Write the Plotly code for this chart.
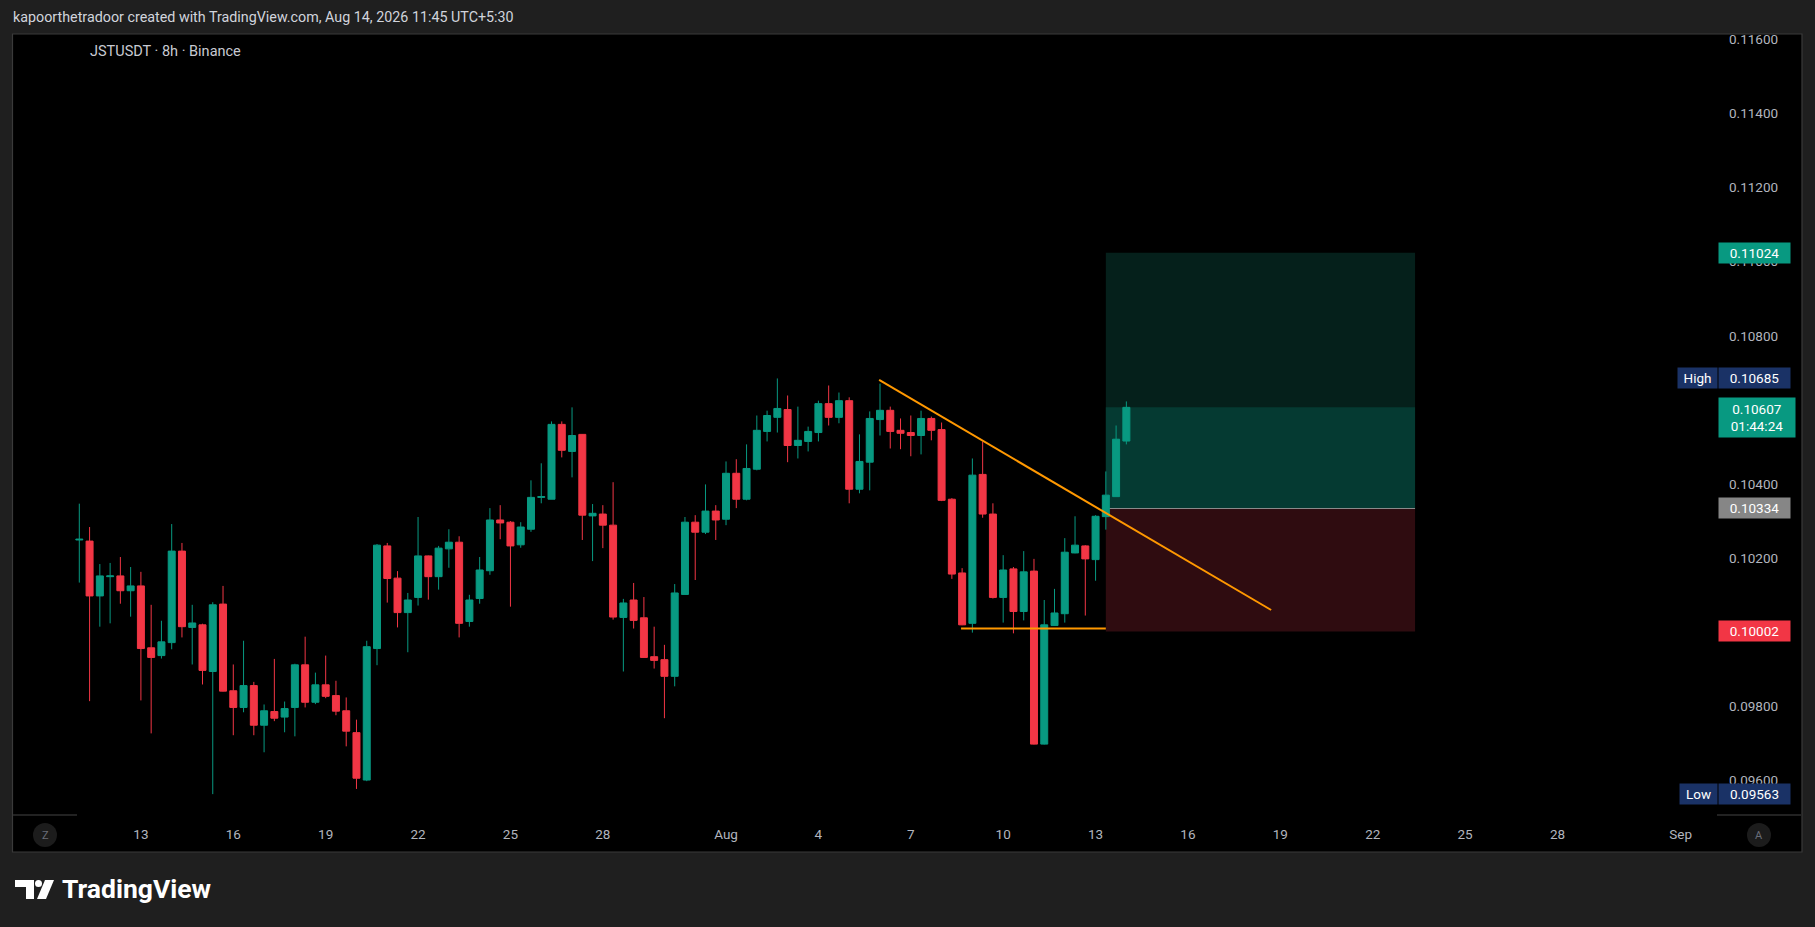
import pandas as pd
import plotly.graph_objects as go

# ---------------- data ----------------
times = pd.date_range("2026-07-11 00:00", periods=103, freq="8h")

opens = [0.10249, 0.10246, 0.10098, 0.10150, 0.10152, 0.10112, 0.10125, 0.09958, 0.09937, 0.09972,
         0.10219, 0.10013, 0.10020, 0.09894, 0.10076, 0.09842, 0.09797, 0.09856, 0.09749, 0.09786,
         0.09771, 0.09797, 0.09912, 0.09811, 0.09858, 0.09829, 0.09788, 0.09729, 0.09601, 0.09956,
         0.10233, 0.10146, 0.10053, 0.10094, 0.10206, 0.10150, 0.10225, 0.10243, 0.10029, 0.10091,
         0.10166, 0.10303, 0.10297, 0.10236, 0.10278, 0.10364, 0.10359, 0.10561, 0.10488, 0.10534,
         0.10314, 0.10319, 0.10289, 0.10040, 0.10087, 0.10039, 0.09934, 0.09926, 0.09881, 0.10102,
         0.10297, 0.10270, 0.10327, 0.10305, 0.10429, 0.10359, 0.10440, 0.10542, 0.10580, 0.10601,
         0.10504, 0.10515, 0.10539, 0.10617, 0.10580, 0.10625, 0.10386, 0.10459, 0.10574, 0.10599,
         0.10545, 0.10539, 0.10531, 0.10577, 0.10547, 0.10359, 0.10160, 0.10024, 0.10426, 0.10319,
         0.10094, 0.10171, 0.10056, 0.10165, 0.09698, 0.10018, 0.10050, 0.10214, 0.10233, 0.10196,
         0.10312, 0.10366, 0.10516]
highs = [0.10347, 0.10284, 0.10184, 0.10187, 0.10203, 0.10176, 0.10163, 0.10074, 0.10031, 0.10292,
         0.10241, 0.10074, 0.10023, 0.10081, 0.10125, 0.09913, 0.09977, 0.09866, 0.09805, 0.09928,
         0.09813, 0.09915, 0.09988, 0.09891, 0.09937, 0.09869, 0.09824, 0.09764, 0.09977, 0.10238,
         0.10241, 0.10165, 0.10106, 0.10311, 0.10207, 0.10233, 0.10278, 0.10259, 0.10101, 0.10203,
         0.10335, 0.10343, 0.10300, 0.10297, 0.10410, 0.10456, 0.10569, 0.10569, 0.10607, 0.10535,
         0.10346, 0.10343, 0.10405, 0.10090, 0.10133, 0.10095, 0.10015, 0.09966, 0.10130, 0.10311,
         0.10316, 0.10399, 0.10343, 0.10461, 0.10467, 0.10507, 0.10585, 0.10598, 0.10685, 0.10639,
         0.10609, 0.10555, 0.10625, 0.10666, 0.10647, 0.10634, 0.10534, 0.10596, 0.10671, 0.10609,
         0.10577, 0.10585, 0.10598, 0.10582, 0.10566, 0.10362, 0.10173, 0.10469, 0.10515, 0.10348,
         0.10208, 0.10176, 0.10219, 0.10198, 0.10087, 0.10117, 0.10254, 0.10313, 0.10235, 0.10316,
         0.10434, 0.10558, 0.10623]
lows = [0.10134, 0.09814, 0.10015, 0.10024, 0.10077, 0.10042, 0.09816, 0.09727, 0.09929, 0.09954,
        0.09986, 0.09913, 0.09859, 0.09563, 0.09840, 0.09722, 0.09784, 0.09722, 0.09676, 0.09760,
        0.09730, 0.09719, 0.09797, 0.09806, 0.09822, 0.09776, 0.09692, 0.09577, 0.09598, 0.09911,
        0.10080, 0.10013, 0.09946, 0.10072, 0.10088, 0.10115, 0.10174, 0.09986, 0.10015, 0.10077,
        0.10155, 0.10251, 0.10069, 0.10228, 0.10271, 0.10348, 0.10359, 0.10472, 0.10418, 0.10249,
        0.10192, 0.10227, 0.10034, 0.09894, 0.10010, 0.09931, 0.09902, 0.09768, 0.09854, 0.10101,
        0.10141, 0.10265, 0.10249, 0.10289, 0.10335, 0.10356, 0.10437, 0.10515, 0.10539, 0.10459,
        0.10469, 0.10488, 0.10515, 0.10558, 0.10564, 0.10348, 0.10375, 0.10383, 0.10531, 0.10496,
        0.10494, 0.10475, 0.10480, 0.10518, 0.10354, 0.10144, 0.10019, 0.09999, 0.10309, 0.10091,
        0.10026, 0.09997, 0.10032, 0.09697, 0.09697, 0.10017, 0.10026, 0.10213, 0.10045, 0.10139,
        0.10277, 0.10366, 0.10507]
closes = [0.10251, 0.10098, 0.10152, 0.10152, 0.10112, 0.10125, 0.09956, 0.09932, 0.09974, 0.10219,
          0.10015, 0.10025, 0.09897, 0.10074, 0.09841, 0.09797, 0.09856, 0.09749, 0.09788, 0.09768,
          0.09794, 0.09912, 0.09811, 0.09858, 0.09827, 0.09787, 0.09733, 0.09606, 0.09961, 0.10235,
          0.10145, 0.10053, 0.10087, 0.10206, 0.10150, 0.10227, 0.10243, 0.10024, 0.10087, 0.10168,
          0.10303, 0.10295, 0.10233, 0.10284, 0.10364, 0.10366, 0.10561, 0.10491, 0.10531, 0.10316,
          0.10321, 0.10289, 0.10041, 0.10079, 0.10032, 0.09932, 0.09924, 0.09881, 0.10106, 0.10297,
          0.10270, 0.10327, 0.10303, 0.10429, 0.10359, 0.10442, 0.10545, 0.10585, 0.10604, 0.10504,
          0.10518, 0.10542, 0.10617, 0.10580, 0.10625, 0.10386, 0.10461, 0.10577, 0.10599, 0.10542,
          0.10537, 0.10531, 0.10577, 0.10545, 0.10356, 0.10157, 0.10020, 0.10424, 0.10319, 0.10094,
          0.10168, 0.10056, 0.10163, 0.09698, 0.10020, 0.10052, 0.10216, 0.10235, 0.10198, 0.10313,
          0.10370, 0.10521, 0.10607]

price_ticks = [0.096, 0.098, 0.100, 0.102, 0.104, 0.106, 0.108, 0.110, 0.112, 0.114, 0.116]
price_tick_text = ["0.09600", "0.09800", "0.10000", "0.10200", "0.10400", "0.10600",
                   "0.10800", "0.11000", "0.11200", "0.11400", "0.11600"]
date_ticks = ["2026-07-13", "2026-07-16", "2026-07-19", "2026-07-22", "2026-07-25", "2026-07-28",
              "2026-08-01", "2026-08-04", "2026-08-07", "2026-08-10", "2026-08-13", "2026-08-16",
              "2026-08-19", "2026-08-22", "2026-08-25", "2026-08-28", "2026-09-01"]
date_tick_text = ["13", "16", "19", "22", "25", "28", "Aug", "4", "7", "10", "13", "16",
                  "19", "22", "25", "28", "Sep"]

entry_price = 0.10334
target_price = 0.11024
stop_price = 0.10002
last_price = 0.10607
last_countdown = "01:44:24"
high_price = 0.10685
low_price = 0.09563
position_start = "2026-08-13 08:00"
position_end = "2026-08-23 09:00"
trend_start = ("2026-08-05 23:20", 0.10681)
trend_end = ("2026-08-18 16:50", 0.10060)
support_start = ("2026-08-08 15:10", 0.10010)
support_end = ("2026-08-13 08:00", 0.10010)

header_text = "kapoorthetradoor created with TradingView.com, Aug 14, 2026 11:45 UTC+5:30"
symbol_text = "JSTUSDT · 8h · Binance"

# ---------------- styling ----------------
W, H = 1815, 927
L, R, T, B = 14, 1717, 35, 814
GREEN = "#089981"
RED = "#F23645"
NAVY = "#1A3266"
GREY_LBL = "#868686"
BG = "#1f1f1f"
TXT = "#b2b5be"
FONT = "Roboto, 'Liberation Sans', sans-serif"


def fx(px):
    return (px - L) / (R - L)


def fy(py):
    return (B - py) / (B - T)


fig = go.Figure()
fig.add_trace(go.Candlestick(
    x=times, open=opens, high=highs, low=lows, close=closes,
    increasing=dict(line=dict(color=GREEN, width=1), fillcolor=GREEN),
    decreasing=dict(line=dict(color=RED, width=1), fillcolor=RED),
    whiskerwidth=0, hoverinfo="skip", showlegend=False,
))

shapes = []
# chart panel
shapes.append(dict(type="rect", xref="paper", yref="paper", x0=fx(12.5), x1=fx(1802), y0=fy(34), y1=fy(852),
                   fillcolor="#000000", line=dict(color="#3a3a3a", width=1.2), layer="below"))
# small separators at date axis ends
shapes.append(dict(type="line", xref="paper", yref="paper", x0=fx(13), x1=fx(77), y0=fy(815), y1=fy(815),
                   line=dict(color="#2e2e2e", width=1.5), layer="below"))
shapes.append(dict(type="line", xref="paper", yref="paper", x0=fx(1717), x1=fx(1801), y0=fy(815), y1=fy(815),
                   line=dict(color="#2e2e2e", width=1.5), layer="below"))
# Z / A buttons
for cx in (45, 1759):
    shapes.append(dict(type="circle", xref="paper", yref="paper", x0=fx(cx - 12), x1=fx(cx + 12),
                       y0=fy(835 + 12), y1=fy(835 - 12), fillcolor="#1c1c1c", line=dict(width=0), layer="below"))
# position tool
shapes.append(dict(type="rect", xref="x", yref="y", x0=position_start, x1=position_end,
                   y0=entry_price, y1=target_price, fillcolor="#05201b",
                   line=dict(width=0), layer="below"))
shapes.append(dict(type="rect", xref="x", yref="y", x0=position_start, x1=position_end,
                   y0=entry_price, y1=last_price, fillcolor="#053a32",
                   line=dict(width=0), layer="below"))
shapes.append(dict(type="rect", xref="x", yref="y", x0=position_start, x1=position_end,
                   y0=stop_price, y1=entry_price, fillcolor="#2f0c10",
                   line=dict(width=0), layer="below"))
shapes.append(dict(type="line", xref="x", yref="y", x0=position_start, x1=position_end,
                   y0=entry_price, y1=entry_price, line=dict(color="#8a8a8a", width=1.2), layer="below"))
# drawings
shapes.append(dict(type="line", xref="x", yref="y", x0=trend_start[0], y0=trend_start[1],
                   x1=trend_end[0], y1=trend_end[1], line=dict(color="#FF9800", width=2), layer="above"))
shapes.append(dict(type="line", xref="x", yref="y", x0=support_start[0], y0=support_start[1],
                   x1=support_end[0], y1=support_end[1], line=dict(color="#FF9800", width=2), layer="above"))
# TradingView logo glyph
shapes.append(dict(type="path", xref="paper", yref="paper",
                   path=f"M {fx(15)} {fy(880)} L {fx(34)} {fy(880)} L {fx(34)} {fy(899)} L {fx(26)} {fy(899)} "
                        f"L {fx(26)} {fy(887)} L {fx(15)} {fy(887)} Z",
                   fillcolor="#ffffff", line=dict(width=0)))
shapes.append(dict(type="circle", xref="paper", yref="paper", x0=fx(35), x1=fx(42), y0=fy(887), y1=fy(880),
                   fillcolor="#ffffff", line=dict(width=0)))
shapes.append(dict(type="path", xref="paper", yref="paper",
                   path=f"M {fx(45)} {fy(880)} L {fx(54)} {fy(880)} L {fx(46)} {fy(899)} L {fx(37)} {fy(899)} Z",
                   fillcolor="#ffffff", line=dict(width=0)))

ann = []
ann.append(dict(text=header_text, xref="paper", yref="paper", x=fx(11), y=fy(17), xanchor="left",
                yanchor="middle", showarrow=False, font=dict(size=14.3, color="#d1d4dc", family=FONT)))
ann.append(dict(text=symbol_text, xref="paper", yref="paper", x=fx(88), y=fy(52), xanchor="left",
                yanchor="middle", showarrow=False, font=dict(size=14.5, color="#c8cad2", family=FONT)))
ann.append(dict(text="<b>TradingView</b>", xref="paper", yref="paper", x=fx(60), y=fy(889), xanchor="left",
                yanchor="middle", showarrow=False, font=dict(size=26.5, color="#ffffff", family=FONT)))
ann.append(dict(text="Z", xref="paper", yref="paper", x=fx(45), y=fy(835), xanchor="center", yanchor="middle",
                showarrow=False, font=dict(size=11, color="#6a6d78", family=FONT)))
ann.append(dict(text="A", xref="paper", yref="paper", x=fx(1759), y=fy(835), xanchor="center", yanchor="middle",
                showarrow=False, font=dict(size=11, color="#6a6d78", family=FONT)))


def price_label(text, price, color, x_left=1718, width=71, height=20, yshift=0, yanchor="middle"):
    ann.append(dict(text=text, xref="paper", yref="y", x=fx(x_left), y=price, xanchor="left",
                    yanchor=yanchor, yshift=yshift, width=width, height=height, bgcolor=color,
                    borderpad=0, showarrow=False, align="center", valign="middle",
                    font=dict(size=13.5, color="#ffffff", family=FONT)))


price_label(f"{target_price:.5f}", target_price, GREEN)
price_label(f"{high_price:.5f}", high_price, NAVY)
price_label("High", high_price, NAVY, x_left=1677, width=39)
price_label(f"{last_price:.5f}<br>{last_countdown}", last_price, GREEN, width=76, height=39,
            yanchor="top", yshift=10)
price_label(f"{entry_price:.5f}", entry_price, GREY_LBL)
price_label(f"{stop_price:.5f}", stop_price, RED)
price_label(f"{low_price:.5f}", low_price, NAVY)
price_label("Low", low_price, NAVY, x_left=1679, width=37)

fig.update_layout(
    width=W, height=H,
    margin=dict(l=L, r=W - R, t=T, b=H - B, pad=0),
    paper_bgcolor=BG, plot_bgcolor="#000000",
    boxgap=0.32, boxgroupgap=0,
    shapes=shapes, annotations=ann,
    font=dict(family=FONT, color=TXT),
    xaxis=dict(type="date", range=["2026-07-08 21:06", "2026-09-02 04:18"],
               rangeslider=dict(visible=False), showgrid=False, zeroline=False, showline=False,
               tickvals=date_ticks, ticktext=date_tick_text, ticks="", ticklabelstandoff=10,
               tickfont=dict(size=13.5, color=TXT, family=FONT), fixedrange=True),
    yaxis=dict(side="right", range=[0.095094, 0.116120], showgrid=False, zeroline=False, showline=False,
               tickvals=price_ticks, ticktext=price_tick_text, ticks="", ticklabelstandoff=11,
               tickfont=dict(size=13.5, color=TXT, family=FONT), fixedrange=True),
)

fig.write_html("out.html", config=dict(displayModeBar=False),
               post_script="document.body.style.margin='0px';document.body.style.overflow='hidden';")
